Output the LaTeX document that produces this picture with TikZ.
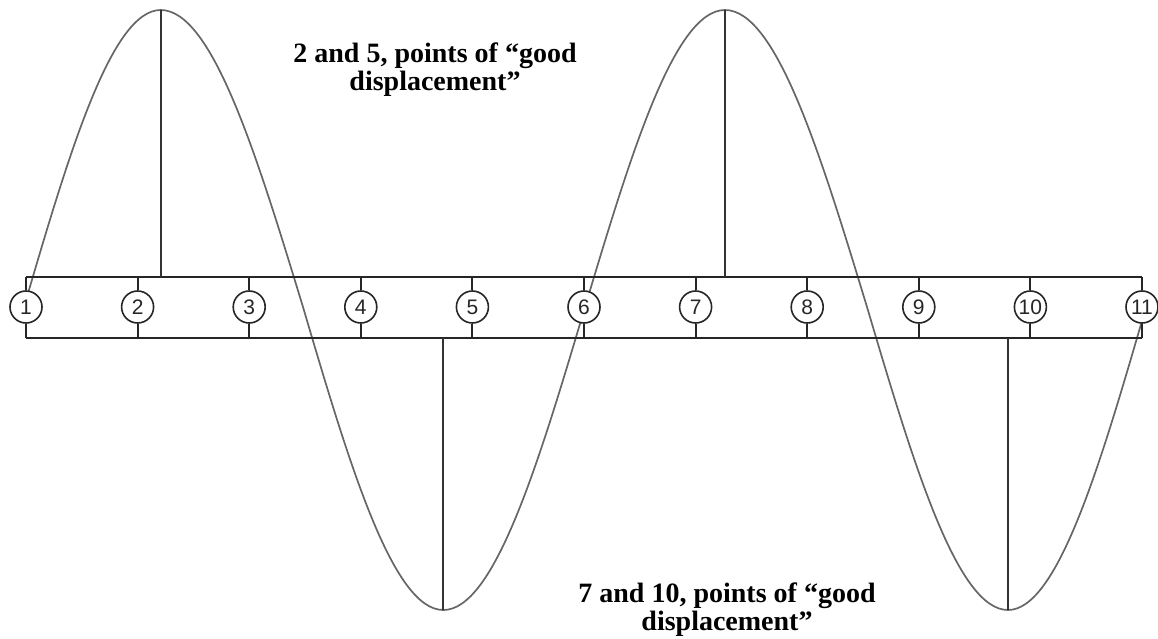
\documentclass[tikz,border=0pt]{standalone}
\usepackage{fontspec}
\setmainfont{Liberation Serif}
\newfontfamily\digitfont{Liberation Sans}
\begin{document}
\begin{tikzpicture}[x=1pt,y=-1pt,
  barline/.style={draw=black!85,line width=2pt},
  wave/.style={draw=black!60,line width=1.7pt},
  peakline/.style={draw=black!80,line width=2pt},
  numc/.style={circle,draw=black!85,line width=1.6pt,fill=white,minimum size=32pt,inner sep=0pt,font=\digitfont\fontsize{21}{21}\selectfont,text=black!85},
  lab/.style={anchor=base,inner sep=0pt,font=\bfseries\fontsize{28}{28}\selectfont}
]
\useasboundingbox (0,0) rectangle (1158,639);
% wave key points
\coordinate (z0) at (24,307);
\coordinate (p1) at (160.7,10);
\coordinate (z1) at (303,307);
\coordinate (t1) at (443.3,610);
\coordinate (z2) at (585,307);
\coordinate (p2) at (725,10);
\coordinate (z3) at (867,307);
\coordinate (t2) at (1008,610);
\coordinate (z4) at (1146,307);
\draw[wave] (z0) sin (p1) cos (z1) sin (t1) cos (z2) sin (p2) cos (z3) sin (t2) cos (z4);
% bar
\coordinate (tl) at (26,276.5);
\coordinate (tr) at (1142,276.5);
\coordinate (bl) at (26,337.5);
\coordinate (br) at (1142,337.5);
\draw[barline] (tl) -- (tr);
\draw[barline] (bl) -- (br);
% peak lines
\draw[peakline] (p1) -- (p1 |- tl);
\draw[peakline] (p2) -- (p2 |- tl);
\draw[peakline] (t1) -- (t1 |- bl);
\draw[peakline] (t2) -- (t2 |- bl);
% circles
\foreach \i in {1,...,11}{
  \node[numc] (c\i) at ({26+(\i-1)*111.6},307) {\i};
  \draw[barline] (c\i.north) -- (c\i.north |- tl);
  \draw[barline] (c\i.south) -- (c\i.south |- bl);
}
% labels
\node[lab] (lab1) at (435,63) {\begin{tabular}[t]{@{}c@{}}2 and 5, points of ``good\\displacement''\end{tabular}};
\node[lab] (lab2) at (727,602) {\begin{tabular}[t]{@{}c@{}}7 and 10, points of ``good\\displacement''\end{tabular}};
\end{tikzpicture}
\end{document}
